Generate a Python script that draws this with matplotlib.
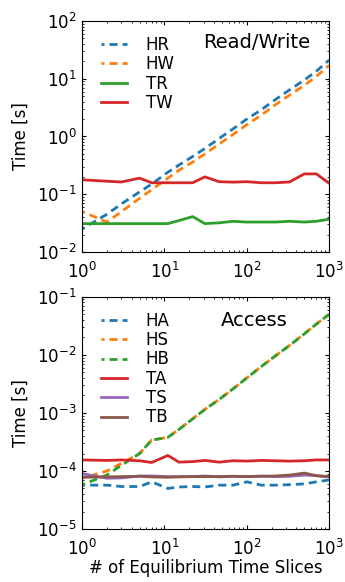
import numpy as np
import matplotlib
matplotlib.use("Agg")
import matplotlib.pyplot as plt

# number of equilibrium time slices
slices = [1, 2, 3, 5, 7, 11, 15, 22, 31, 46, 68, 100, 150, 220, 330, 500, 700, 1000]

# read / write times [s]
hr = [0.025, 0.045, 0.068, 0.11, 0.15, 0.24, 0.32, 0.45, 0.62, 0.92, 1.35, 2.0, 2.9, 4.3, 6.4, 9.5, 13.5, 21]
hw = [0.05, 0.033, 0.05, 0.085, 0.12, 0.19, 0.26, 0.36, 0.5, 0.74, 1.08, 1.6, 2.35, 3.5, 5.2, 7.7, 11, 17]
tr = [0.031, 0.031, 0.031, 0.031, 0.031, 0.031, 0.035, 0.041, 0.031, 0.032, 0.034, 0.033, 0.033, 0.033, 0.034, 0.033, 0.034, 0.037]
tw = [0.178, 0.168, 0.163, 0.19, 0.158, 0.158, 0.158, 0.158, 0.2, 0.165, 0.162, 0.165, 0.158, 0.158, 0.163, 0.225, 0.225, 0.155]

# access times [s]
ha = [5.7e-5, 5.7e-5, 5.4e-5, 5.4e-5, 6.5e-5, 5.0e-5, 5.3e-5, 5.4e-5, 5.3e-5, 5.7e-5, 5.7e-5, 6.5e-5, 5.7e-5, 5.7e-5, 5.8e-5, 6.0e-5, 6.5e-5, 7.0e-5]
hs = [7.5e-5, 1.0e-4, 1.35e-4, 2.0e-4, 3.4e-4, 3.8e-4, 5.2e-4, 7.9e-4, 1.15e-3, 1.7e-3, 2.6e-3, 4.0e-3, 6.3e-3, 9.5e-3, 1.45e-2, 2.3e-2, 3.4e-2, 5.0e-2]
hb = [5.8e-5, 8.5e-5, 1.25e-4, 2.0e-4, 3.4e-4, 3.8e-4, 5.2e-4, 7.9e-4, 1.15e-3, 1.7e-3, 2.6e-3, 4.0e-3, 6.3e-3, 9.5e-3, 1.45e-2, 2.3e-2, 3.4e-2, 5.0e-2]
ta = [1.55e-4, 1.52e-4, 1.55e-4, 1.5e-4, 1.4e-4, 1.85e-4, 1.42e-4, 1.45e-4, 1.52e-4, 1.42e-4, 1.5e-4, 1.48e-4, 1.52e-4, 1.5e-4, 1.48e-4, 1.5e-4, 1.55e-4, 1.55e-4]
ts = [9.0e-5, 7.5e-5, 7.6e-5, 8.2e-5, 8.2e-5, 8.0e-5, 8.0e-5, 8.0e-5, 8.2e-5, 7.9e-5, 8.1e-5, 8.0e-5, 8.2e-5, 8.0e-5, 8.1e-5, 8.5e-5, 8.3e-5, 7.9e-5]
tb = [7.8e-5, 7.9e-5, 8.0e-5, 8.1e-5, 7.9e-5, 7.8e-5, 7.9e-5, 8.0e-5, 8.0e-5, 8.0e-5, 8.1e-5, 8.0e-5, 8.1e-5, 8.2e-5, 8.5e-5, 9.2e-5, 8.3e-5, 8.0e-5]

plt.rcParams["font.family"] = "DejaVu Sans"
plt.rcParams["font.size"] = 12

dotted = (1.8, (2.9, 1.8))
lw = 2

fig = plt.figure(figsize=(3.45, 5.82), dpi=100)
ax1 = fig.add_axes([0.238, 0.567, 0.716, 0.397])
ax2 = fig.add_axes([0.238, 0.091, 0.716, 0.399])

ax1.plot(slices, hr, color="tab:blue", lw=lw, linestyle=dotted, label="HR")
ax1.plot(slices, hw, color="tab:orange", lw=lw, linestyle=dotted, label="HW")
ax1.plot(slices, tr, color="tab:green", lw=lw, label="TR")
ax1.plot(slices, tw, color="tab:red", lw=lw, label="TW")
ax1.set_ylim(1e-2, 1e2)
ax1.text(0.923, 0.905, "Read/Write", transform=ax1.transAxes, ha="right", va="center", fontsize=14)

ax2.plot(slices, ha, color="tab:blue", lw=lw, linestyle=dotted, label="HA")
ax2.plot(slices, hs, color="tab:orange", lw=lw, linestyle=dotted, label="HS")
ax2.plot(slices, hb, color="tab:green", lw=lw, linestyle=dotted, label="HB")
ax2.plot(slices, ta, color="tab:red", lw=lw, label="TA")
ax2.plot(slices, ts, color="tab:purple", lw=lw, label="TS")
ax2.plot(slices, tb, color="tab:brown", lw=lw, label="TB")
ax2.set_ylim(1e-5, 1e-1)
ax2.text(0.696, 0.90, "Access", transform=ax2.transAxes, ha="center", va="center", fontsize=14)
ax2.set_xlabel("# of Equilibrium Time Slices", labelpad=0)

for ax in (ax1, ax2):
    ax.set_xscale("log")
    ax.set_yscale("log")
    ax.set_xlim(1, 1e3)
    ax.set_ylabel("Time [s]", labelpad=5)
    ax.tick_params(which="both", direction="in", top=True, right=True)
    ax.tick_params(which="major", length=3, labelsize=12)
    ax.tick_params(which="minor", length=1.6)
    ax.tick_params(axis="x", which="major", pad=7)
    ax.tick_params(axis="y", which="major", pad=4)
    ax.legend(loc="upper left", bbox_to_anchor=(0.015, 1.0), frameon=False, fontsize=12,
              handlelength=1.6, handletextpad=1.1, labelspacing=0.08, borderaxespad=0.5)

fig.savefig("out.png", dpi=100)
